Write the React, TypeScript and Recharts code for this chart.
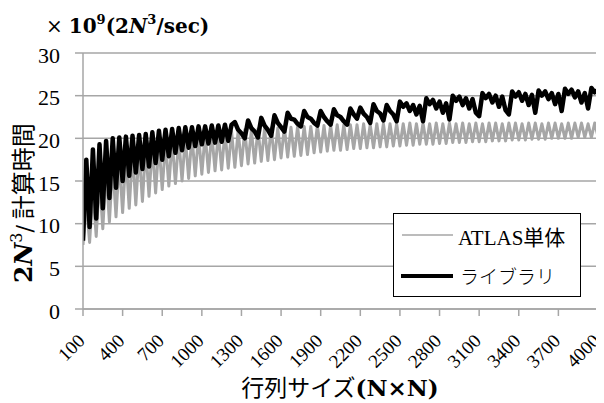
import React from 'react';
import {
  LineChart,
  Line,
  XAxis,
  YAxis,
  CartesianGrid,
  ReferenceLine,
  Legend
} from 'recharts';

// matrix size N (every 25)
const sizes = [
  100, 125, 150, 175, 200, 225, 250, 275, 300, 325, 350, 375,
  400, 425, 450, 475, 500, 525, 550, 575, 600, 625, 650, 675,
  700, 725, 750, 775, 800, 825, 850, 875, 900, 925, 950, 975,
  1000, 1025, 1050, 1075, 1100, 1125, 1150, 1175, 1200, 1225, 1250, 1275,
  1300, 1325, 1350, 1375, 1400, 1425, 1450, 1475, 1500, 1525, 1550, 1575,
  1600, 1625, 1650, 1675, 1700, 1725, 1750, 1775, 1800, 1825, 1850, 1875,
  1900, 1925, 1950, 1975, 2000, 2025, 2050, 2075, 2100, 2125, 2150, 2175,
  2200, 2225, 2250, 2275, 2300, 2325, 2350, 2375, 2400, 2425, 2450, 2475,
  2500, 2525, 2550, 2575, 2600, 2625, 2650, 2675, 2700, 2725, 2750, 2775,
  2800, 2825, 2850, 2875, 2900, 2925, 2950, 2975, 3000, 3025, 3050, 3075,
  3100, 3125, 3150, 3175, 3200, 3225, 3250, 3275, 3300, 3325, 3350, 3375,
  3400, 3425, 3450, 3475, 3500, 3525, 3550, 3575, 3600, 3625, 3650, 3675,
  3700, 3725, 3750, 3775, 3800, 3825, 3850, 3875, 3900, 3925, 3950, 3975,
  4000
];

// ATLAS単体 (x10^9 2N^3/sec)
const atlasValues = [
  7.5, 12.5, 7.8, 14.0, 8.5, 15.3, 9.4, 16.3, 10.2, 17.0, 10.8, 17.6,
  11.3, 18.0, 11.8, 18.4, 12.2, 18.7, 12.6, 19.0, 13.2, 19.2, 13.6, 19.4,
  14.0, 19.6, 14.4, 19.8, 14.7, 20.0, 15.0, 20.1, 15.3, 20.3, 15.6, 20.4,
  15.8, 20.5, 16.0, 20.6, 16.2, 20.7, 16.3, 20.8, 16.5, 20.8, 16.6, 20.9,
  16.8, 21.0, 17.0, 21.0, 17.1, 21.1, 17.3, 21.1, 17.4, 21.2, 17.5, 21.2,
  17.7, 21.3, 17.8, 21.3, 17.9, 21.4, 18.0, 21.4, 18.1, 21.4, 18.3, 21.5,
  18.4, 21.5, 18.5, 21.5, 18.6, 21.6, 18.6, 21.6, 18.7, 21.6, 18.8, 21.6,
  18.8, 21.7, 18.9, 21.6, 18.9, 21.7, 19.0, 21.7, 19.0, 21.7, 19.1, 21.7,
  19.1, 21.7, 19.2, 21.8, 19.2, 21.7, 19.3, 21.8, 19.3, 21.7, 19.3, 21.8,
  19.4, 21.7, 19.4, 21.8, 19.5, 21.7, 19.5, 21.8, 19.5, 21.7, 19.6, 21.8,
  19.6, 21.7, 19.6, 21.8, 19.7, 21.8, 19.7, 21.7, 19.7, 21.8, 19.8, 21.8,
  19.8, 21.7, 19.8, 21.8, 19.9, 21.8, 19.9, 21.7, 19.9, 21.8, 20.0, 21.8,
  20.0, 21.7, 20.0, 21.8, 20.0, 21.8, 20.1, 21.8, 20.1, 21.7, 20.1, 21.8,
  20.2
];

// ライブラリ
const libraryValues = [
  8.0, 17.5, 9.6, 18.7, 10.6, 19.3, 11.8, 19.7, 13.0, 20.0, 14.2, 20.1,
  15.0, 20.2, 15.6, 20.3, 16.0, 20.4, 16.4, 20.5, 16.7, 20.7, 17.1, 20.9,
  17.5, 21.0, 17.9, 21.1, 18.3, 21.2, 18.6, 21.3, 18.9, 21.3, 19.1, 21.4,
  19.3, 21.4, 19.4, 21.5, 19.5, 21.5, 19.6, 21.6, 19.7, 21.6, 21.9, 21.0,
  20.6, 20.0, 22.1, 21.2, 20.8, 20.1, 22.4, 21.5, 21.0, 20.3, 22.7, 21.8,
  21.3, 20.8, 23.0, 22.3, 22.2, 21.7, 21.4, 23.2, 22.5, 22.3, 21.8, 21.5,
  23.2, 22.5, 22.0, 21.6, 23.4, 22.7, 22.5, 22.0, 21.6, 23.5, 22.8, 22.3,
  23.6, 22.9, 22.5, 21.8, 24.0, 23.2, 22.9, 22.1, 23.9, 23.2, 22.8, 22.0,
  24.3, 23.7, 24.1, 23.2, 23.9, 22.8, 23.8, 22.0, 24.7, 24.0, 24.5, 23.5,
  24.3, 23.0, 24.1, 22.2, 25.0, 24.4, 24.9, 23.9, 24.7, 23.5, 24.6, 23.0,
  22.6, 25.3, 24.7, 25.2, 24.2, 25.0, 23.7, 24.9, 23.3, 22.8, 25.5, 24.9,
  25.4, 24.4, 25.2, 23.9, 25.1, 23.0, 25.6, 25.0, 25.5, 24.6, 25.3, 24.0,
  25.2, 23.2, 25.8, 25.2, 25.7, 24.8, 25.5, 24.2, 25.3, 23.5, 25.9, 25.4,
  25.7
];

const xTicks = [100, 400, 700, 1000, 1300, 1600, 1900, 2200, 2500, 2800, 3100, 3400, 3700, 4000];
const yTicks = [0, 5, 10, 15, 20, 25, 30];

const data = sizes.map((n, i) => ({
  n,
  atlas: atlasValues[i],
  library: libraryValues[i]
}));

const SERIF = '"Liberation Serif", "Noto Sans CJK JP", serif';
const BOLD_SERIF = '"DejaVu Serif", "Liberation Serif", serif';
const CJK = '"Noto Sans CJK JP", sans-serif';
const GRID = '#a6a6a6';

const XTick = (props: any) => {
  const { x, y, payload } = props;
  const ox = x + 3;
  const oy = y + 26;
  return (
    <text
      x={ox}
      y={oy}
      textAnchor="end"
      transform={`rotate(-45 ${ox} ${oy})`}
      fontFamily={SERIF}
      fontSize={19}
      fill="#000"
    >
      {payload.value}
    </text>
  );
};

const LegendBox = () => (
  <div
    style={{
      width: 186,
      height: 82,
      border: '1.5px solid #000',
      background: '#fff',
      fontFamily: SERIF,
      color: '#000',
      position: 'relative'
    }}
  >
    <svg width={60} height={82} style={{ position: 'absolute', left: 0, top: 0 }}>
      <line x1={8} y1={21} x2={59} y2={21} stroke="#a6a6a6" strokeWidth={1.5} />
      <line x1={7} y1={62} x2={59} y2={62} stroke="#000" strokeWidth={4} />
    </svg>
    <div style={{ position: 'absolute', left: 64, top: 7, fontSize: 21, whiteSpace: 'nowrap' }}>ATLAS単体</div>
    <div style={{ position: 'absolute', left: 66, top: 48, fontSize: 19, whiteSpace: 'nowrap', fontFamily: CJK, fontWeight: 300 }}>
      ライブラリ
    </div>
  </div>
);

export default function App() {
  return (
    <div style={{ position: 'relative', width: 604, height: 403, margin: '-8px 0 0 -8px', background: '#fff' }}>
      <LineChart width={604} height={403} data={data} margin={{ top: 53, right: 6, bottom: 0, left: 0 }}>
        <CartesianGrid stroke={GRID} strokeWidth={1.5} vertical={false} />
        <XAxis
          dataKey="n"
          type="number"
          domain={[100, 4000]}
          ticks={xTicks}
          interval={0}
          height={94}
          tick={<XTick />}
          tickSize={7}
          tickMargin={0}
          stroke={GRID}
          strokeWidth={1.5}
          allowDataOverflow
        />
        <YAxis
          type="number"
          domain={[0, 30]}
          ticks={yTicks}
          interval={0}
          width={83}
          tickSize={8}
          tickMargin={15}
          stroke={GRID}
          strokeWidth={1.5}
          tick={{ fill: '#000', fontSize: 22, fontFamily: SERIF, dy: 2 }}
        />
        <ReferenceLine x={4000} stroke={GRID} strokeWidth={1.5} />
        <Line
          type="linear"
          dataKey="atlas"
          name="ATLAS単体"
          stroke="#a6a6a6"
          strokeWidth={3}
          strokeLinejoin="round"
          dot={false}
          isAnimationActive={false}
        />
        <Line
          type="linear"
          dataKey="library"
          name="ライブラリ"
          stroke="#000"
          strokeWidth={4.5}
          strokeLinejoin="round"
          dot={false}
          isAnimationActive={false}
        />
        <Legend
          layout="vertical"
          align="center"
          verticalAlign="middle"
          content={<LegendBox />}
          wrapperStyle={{ left: 393, top: 213, width: 189, height: 85 }}
        />
      </LineChart>
      <svg
        width={604}
        height={403}
        style={{ position: 'absolute', left: 0, top: 0, pointerEvents: 'none' }}
      >
        <text x={46} y={33} fontFamily={BOLD_SERIF} fontSize={20} fill="#000">
          <tspan>×</tspan>
          <tspan fontWeight="bold" dx={6}>10</tspan>
          <tspan fontWeight="bold" fontSize={13} dy={-9}>9</tspan>
          <tspan fontWeight="bold" dy={9}>(2</tspan>
          <tspan fontWeight="bold" fontStyle="italic">N</tspan>
          <tspan fontWeight="bold" fontSize={13} dy={-9}>3</tspan>
          <tspan fontWeight="bold" dy={9}>/sec)</tspan>
        </text>
        <text
          x={32}
          y={283}
          transform="rotate(-90 32 283)"
          fontFamily={BOLD_SERIF}
          fontSize={25}
          fill="#000"
        >
          <tspan fontWeight="bold">2</tspan>
          <tspan fontWeight="bold" fontStyle="italic">N</tspan>
          <tspan fontSize={16} dy={-10}>3</tspan>
          <tspan fontSize={22} dy={10}>/</tspan>
          <tspan fontFamily={CJK} fontSize={24} dx={6}>計算時間</tspan>
        </text>
        <text x={340} y={396} textAnchor="middle" fontFamily={BOLD_SERIF} fontSize={23} fill="#000">
          <tspan fontFamily={CJK}>行列サイズ</tspan>
          <tspan fontWeight="bold">(N×N)</tspan>
        </text>
      </svg>
    </div>
  );
}
